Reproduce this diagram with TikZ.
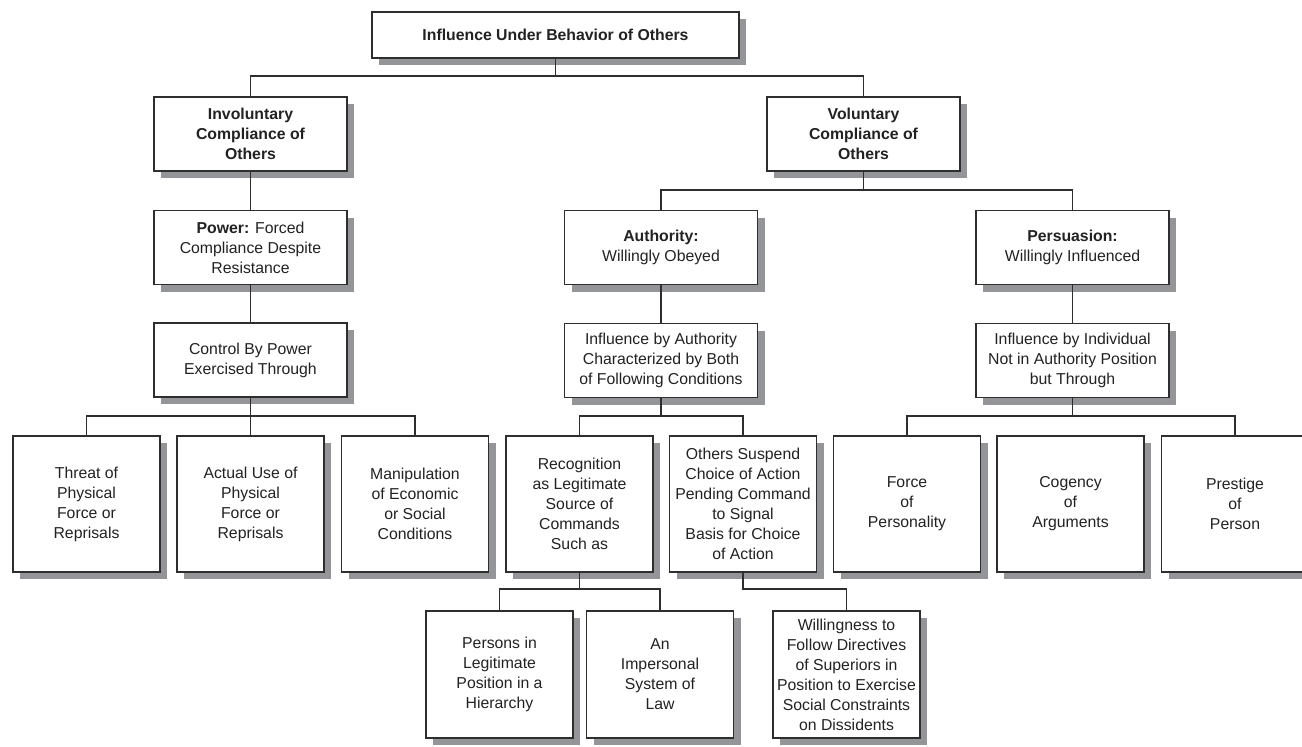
\documentclass[tikz,border=0pt]{standalone}
\usepackage{fontspec}
\setmainfont{Liberation Sans}
\usetikzlibrary{shadows}
\definecolor{inkgray}{HTML}{2E2E2E}
\definecolor{shadegray}{HTML}{939598}
\definecolor{textgray}{HTML}{222222}
\newcommand{\boxfont}{\fontsize{15.8}{20}\selectfont}
\tikzset{
  box/.style={draw=inkgray, line width=1.1pt, fill=white, rectangle,
    inner sep=0pt, align=center, text=textgray,
    font=\boxfont,
    general shadow={fill=shadegray, shadow xshift=7pt, shadow yshift=-7pt}},
  headbox/.style={font=\boxfont\bfseries},
  midbox/.style={box, minimum width=193pt, minimum height=74pt},
  leafbox/.style={box, minimum width=147pt, minimum height=136pt},
  lowbox/.style={box, minimum width=147pt, minimum height=127pt},
  link/.style={draw=inkgray, line width=1.1pt}
}
\begin{document}
\begin{tikzpicture}[x=1pt, y=-1pt]
\useasboundingbox (0,0) rectangle (1302,747);

% root
\node[box, headbox, minimum width=367pt, minimum height=46pt]
  (root) at (555.5,35) {Influence Under Behavior of Others};

% second level
\node[midbox, headbox] (inv) at (250.5,134) {Involuntary\\Compliance of\\Others};
\node[midbox, headbox] (vol) at (863.5,134) {Voluntary\\Compliance of\\Others};

% power branch
\node[midbox] (pow) at (250.5,247.5) {\textbf{Power:} Forced\\Compliance Despite\\Resistance};
\node[midbox] (ctl) at (250.5,360) {Control By Power\\Exercised Through};

% authority branch
\node[midbox] (auth) at (661,247.5) {\textbf{Authority:}\\Willingly Obeyed};
\node[midbox] (infa) at (661,360.5) {Influence by Authority\\Characterized by Both\\of Following Conditions};

% persuasion branch
\node[midbox] (pers) at (1072.5,247.5) {\textbf{Persuasion:}\\Willingly Influenced};
\node[midbox] (infi) at (1072.5,360.5) {Influence by Individual\\Not in Authority Position\\but Through};

% leaf row
\node[leafbox] (threat) at (86.5,504) {Threat of\\Physical\\Force or\\Reprisals};
\node[leafbox] (actual) at (250.5,504) {Actual Use of\\Physical\\Force or\\Reprisals};
\node[leafbox] (manip) at (415,504) {Manipulation\\of Economic\\or Social\\Conditions};
\node[leafbox] (recog) at (579.5,504) {Recognition\\as Legitimate\\Source of\\Commands\\Such as};
\node[leafbox] (susp) at (743,504) {Others Suspend\\Choice of Action\\Pending Command\\to Signal\\Basis for Choice\\of Action};
\node[leafbox] (force) at (907,504) {Force\\of\\Personality};
\node[leafbox] (cogency) at (1070.5,504) {Cogency\\of\\Arguments};
\node[leafbox] (prestige) at (1235,504) {Prestige\\of\\Person};

% lowest row
\node[lowbox] (legit) at (499.5,674.5) {Persons in\\Legitimate\\Position in a\\Hierarchy};
\node[lowbox] (law) at (660,674.5) {An\\Impersonal\\System of\\Law};
\node[lowbox] (will) at (846.5,674.5) {Willingness to\\Follow Directives\\of Superiors in\\Position to Exercise\\Social Constraints\\on Dissidents};

% bus points
\coordinate (b0) at (555.5,76);
\coordinate (bv) at (863.5,190);
\coordinate (bc) at (250.5,416);
\coordinate (ba) at (661,416);
\coordinate (bp) at (1072.5,416);
\coordinate (br) at (579.5,589);
\coordinate (bs) at (743,589);

% connectors
\draw[link] (root.south) -- (b0);
\draw[link] (inv.north) |- (b0) -| (vol.north);
\draw[link] (inv.south) -- (pow.north);
\draw[link] (pow.south) -- (ctl.north);
\draw[link] (ctl.south) -- (bc);
\draw[link] (threat.north) |- (bc) -| (manip.north);
\draw[link] (bc) -- (actual.north);

\draw[link] (vol.south) -- (bv);
\draw[link] (auth.north) |- (bv) -| (pers.north);
\draw[link] (auth.south) -- (infa.north);
\draw[link] (infa.south) -- (ba);
\draw[link] (recog.north) |- (ba) -| (susp.north);

\draw[link] (pers.south) -- (infi.north);
\draw[link] (infi.south) -- (bp);
\draw[link] (force.north) |- (bp) -| (prestige.north);

\draw[link] (recog.south) -- (br);
\draw[link] (legit.north) |- (br) -| (law.north);
\draw[link] (susp.south) -- (bs) -| (will.north);
\end{tikzpicture}
\end{document}
